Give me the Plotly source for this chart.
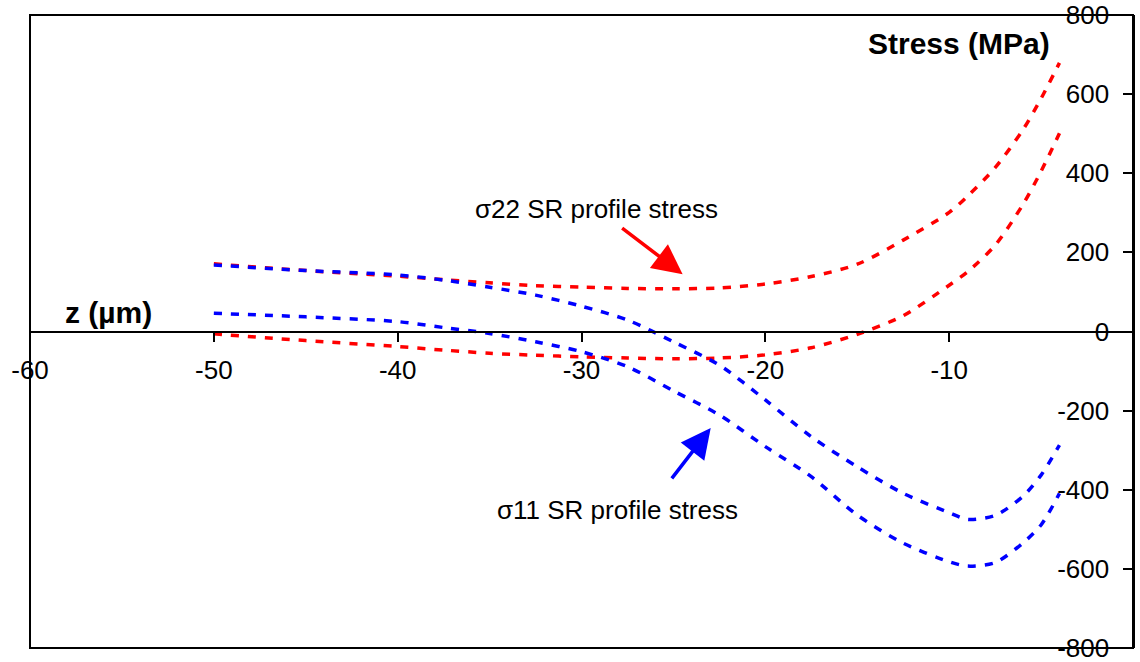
import plotly.graph_objects as go

# Depth below surface (µm)
z_depth = [-50, -45, -40, -37.5, -35, -32.5, -30, -27.5, -25, -22.5, -20,
           -17.5, -15, -12.5, -10, -9, -7.5, -6, -5, -4]

# σ22 SR profile stress (MPa), upper and lower bounds
s22_upper = [171, 154, 140, 131, 123, 116, 112, 109, 108, 110, 120,
             139, 170, 231, 301, 342, 414, 509, 589, 679]
s22_lower = [-6, -23, -38, -47, -55, -60, -64, -67, -69, -67, -59,
             -41, -7, 40, 117, 151, 218, 320, 405, 501]

# σ11 SR profile stress (MPa), upper and lower bounds
s11_upper = [168, 154, 143, 130, 112, 92, 64, 29, -26, -85, -173,
             -266, -342, -409, -458, -475, -465, -417, -363, -287]
s11_lower = [46, 37, 25, 10, -5, -26, -51, -89, -150, -211, -291,
             -367, -464, -535, -582, -593, -584, -535, -489, -409]

x_ticks = [-60, -50, -40, -30, -20, -10, 0]
y_ticks = [-800, -600, -400, -200, 0, 200, 400, 600, 800]

RED = "#FF0000"
BLUE = "#0000FF"
FONT = "Liberation Sans, Arial, sans-serif"
DASH = "8px,9px"

fig = go.Figure()
for ys, col in [(s22_upper, RED), (s22_lower, RED), (s11_upper, BLUE), (s11_lower, BLUE)]:
    fig.add_trace(go.Scatter(
        x=z_depth, y=ys, mode="lines",
        line=dict(color=col, width=3.5, dash=DASH, shape="spline", smoothing=0.8),
        showlegend=False, hoverinfo="skip",
    ))

fig.update_layout(
    width=1140, height=662,
    margin=dict(l=30, r=7, t=15, b=14),
    paper_bgcolor="white", plot_bgcolor="white",
    font=dict(family=FONT, size=26, color="black"),
    showlegend=False,
    xaxis=dict(
        range=[-60, 0], tickvals=x_ticks, ticktext=[str(v) for v in x_ticks],
        anchor="free", position=0.5, side="bottom", automargin=False,
        showline=True, linecolor="black", linewidth=2,
        ticks="outside", ticklen=9, tickwidth=2, tickcolor="black",
        ticklabelstandoff=6,
        showgrid=False, zeroline=False,
        tickfont=dict(family=FONT, size=26, color="black"),
    ),
    yaxis=dict(
        range=[-800, 800], tickvals=y_ticks, ticktext=[str(v) for v in y_ticks],
        side="right", ticklabelposition="inside", ticklabeloverflow="allow",
        automargin=False, ticklabelstandoff=16,
        showline=True, linecolor="black", linewidth=2,
        ticks="inside", ticklen=10, tickwidth=2, tickcolor="black",
        showgrid=False, zeroline=False,
        tickfont=dict(family=FONT, size=26, color="black"),
    ),
    shapes=[dict(type="rect", xref="paper", yref="paper", x0=0, x1=1, y0=0, y1=1,
                 line=dict(color="black", width=2), fillcolor="rgba(0,0,0,0)")],
)

# Axis titles placed inside the plot area
fig.add_annotation(x=-9.47, y=727, xref="x", yref="y", text="<b>Stress (MPa)</b>",
                   showarrow=False, font=dict(family=FONT, size=30, color="black"))
fig.add_annotation(x=-55.74, y=47, xref="x", yref="y", text="<b>z (µm)</b>",
                   showarrow=False, font=dict(family=FONT, size=30, color="black"))

# Curve labels with pointer arrows
fig.add_annotation(x=-29.18, y=310, xref="x", yref="y", text="σ22 SR profile stress",
                   showarrow=False, font=dict(family=FONT, size=26, color="black"))
fig.add_annotation(x=-24.5, y=145, ax=-27.87, ay=264, xref="x", yref="y",
                   axref="x", ayref="y", text="", showarrow=True,
                   arrowhead=2, arrowsize=1.7, arrowwidth=3.5, arrowcolor=RED)
fig.add_annotation(x=-28.06, y=-451, xref="x", yref="y", text="σ11 SR profile stress",
                   showarrow=False, font=dict(family=FONT, size=26, color="black"))
fig.add_annotation(x=-22.97, y=-244, ax=-25.15, ay=-375, xref="x", yref="y",
                   axref="x", ayref="y", text="", showarrow=True,
                   arrowhead=2, arrowsize=1.7, arrowwidth=3.5, arrowcolor=BLUE)

fig.write_html("out.html")
